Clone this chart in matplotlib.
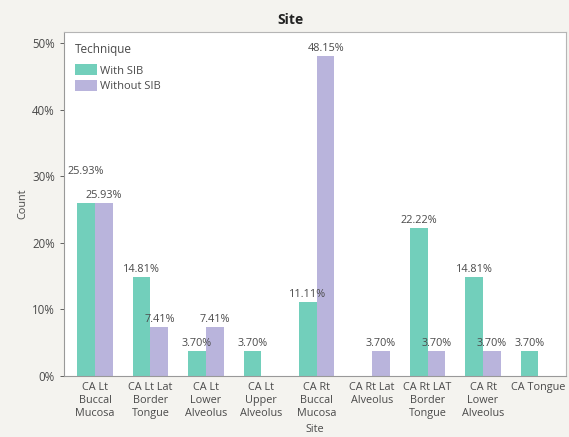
import matplotlib
matplotlib.use("Agg")
import matplotlib.pyplot as plt
import numpy as np
from matplotlib.ticker import FuncFormatter

plt.rcParams["font.family"] = ["Open Sans", "DejaVu Sans"]

sites = [
    "CA Lt\nBuccal\nMucosa",
    "CA Lt Lat\nBorder\nTongue",
    "CA Lt\nLower\nAlveolus",
    "CA Lt\nUpper\nAlveolus",
    "CA Rt\nBuccal\nMucosa",
    "CA Rt Lat\nAlveolus",
    "CA Rt LAT\nBorder\nTongue",
    "CA Rt\nLower\nAlveolus",
    "CA Tongue",
]
with_sib = [25.93, 14.81, 3.70, 3.70, 11.11, 0, 22.22, 14.81, 3.70]
without_sib = [25.93, 7.41, 7.41, 0, 48.15, 3.70, 3.70, 3.70, 0]
series_names = ["With SIB", "Without SIB"]

green = "#72cfbb"
purple = "#b9b4dc"
text_col = "#4a4a4a"

fig = plt.figure(figsize=(5.69, 4.37), dpi=100, facecolor="#f4f3ef")
ax = fig.add_axes([0.1125, 0.1396, 0.8825, 0.7872])
ax.set_facecolor("white")

x = np.arange(len(sites))
w = 0.32
ax.bar(x - w / 2, with_sib, w, color=green, label=series_names[0])
ax.bar(x + w / 2, without_sib, w, color=purple, label=series_names[1])

# value labels (JMP skips empty cells)
for i, v in enumerate(with_sib):
    if v <= 0:
        continue
    dy = 19 if i == 0 else 1.5
    ax.annotate(f"{v:.2f}%", (x[i] - w / 2, v), xytext=(0, dy),
                textcoords="offset points", ha="center", va="bottom",
                fontsize=7.8, color=text_col)
for i, v in enumerate(without_sib):
    if v <= 0:
        continue
    ax.annotate(f"{v:.2f}%", (x[i] + w / 2, v), xytext=(0, 1.5),
                textcoords="offset points", ha="center", va="bottom",
                fontsize=7.8, color=text_col)

ax.set_xlim(-0.56, 8.5)
ax.set_ylim(0, 51.7)
ax.set_yticks([0, 10, 20, 30, 40, 50])
ax.yaxis.set_major_formatter(FuncFormatter(lambda v, p: f"{v:.0f}%"))
ax.set_xticks(x)
ax.set_xticklabels(sites, fontsize=7.8, color=text_col, linespacing=1.3)
ax.tick_params(axis="x", length=0, pad=4)
ax.tick_params(axis="y", labelsize=8.3, colors=text_col, length=3, width=0.6)

for s in ax.spines.values():
    s.set_color("#b5b5b5")
    s.set_linewidth(0.8)
ax.spines["left"].set_color("#999999")
ax.spines["bottom"].set_color("#999999")

ax.set_xlabel("Site", fontsize=7.8, color=text_col, labelpad=3)
ax.set_ylabel("Count", fontsize=7.8, color=text_col, labelpad=3)

fig.text(0.51, 0.955, "Site", ha="center", va="center", fontsize=10,
         fontweight="bold", color="#222222")

leg = ax.legend(loc="upper left", frameon=False, fontsize=8, title="Technique",
                title_fontsize=8.5, handlelength=2.0, handleheight=1.1,
                borderaxespad=0.6, labelspacing=0.3, handletextpad=0.2)
leg._legend_box.align = "left"
leg._legend_box.sep = 6
for t in leg.get_texts():
    t.set_color(text_col)
leg.get_title().set_color(text_col)

fig.savefig("out.png", dpi=100, facecolor=fig.get_facecolor())
